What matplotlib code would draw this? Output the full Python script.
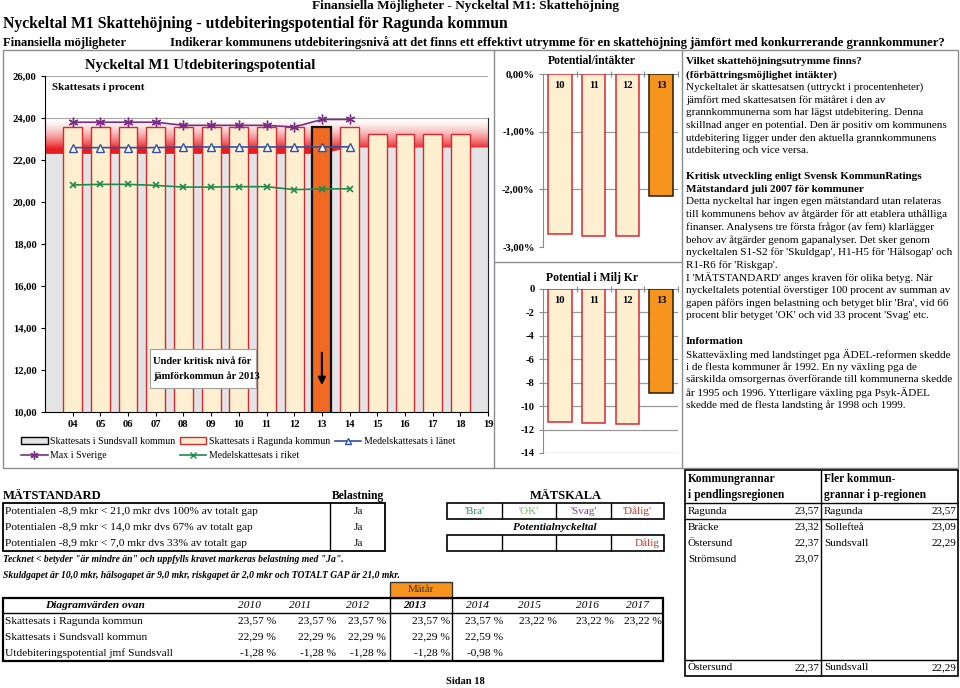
import numpy as np
import matplotlib
matplotlib.use('Agg')
import matplotlib.pyplot as plt
from matplotlib.patches import Rectangle, Patch
from matplotlib.lines import Line2D
from matplotlib.ticker import FuncFormatter

plt.rcParams['font.family'] = ['Liberation Serif', 'DejaVu Serif']

# ---------------- data ----------------
bar_years = [4, 5, 6, 7, 8, 9, 10, 11, 12, 13, 14, 15, 16, 17, 18]
ragunda_rate = [23.57, 23.57, 23.57, 23.57, 23.57, 23.57, 23.57, 23.57, 23.57,
                23.57, 23.57, 23.22, 23.22, 23.22, 23.22]
area_years = [3, 4, 5, 6, 7, 8, 9, 10, 11, 12, 13, 14, 15, 16, 17, 18, 19]
sundsvall_rate = [22.29, 22.29, 22.29, 22.29, 22.29, 22.29, 22.29, 22.29, 22.29,
                  22.29, 22.29, 22.59, 22.59, 22.59, 22.59, 22.59, 22.59]
critical_top = 24.0
line_years = [4, 5, 6, 7, 8, 9, 10, 11, 12, 13, 14]
max_sverige = [23.80, 23.80, 23.80, 23.80, 23.65, 23.65, 23.65, 23.65, 23.57, 23.93, 23.93]
medel_lanet = [22.59, 22.59, 22.59, 22.59, 22.62, 22.62, 22.62, 22.62, 22.62, 22.62, 22.63]
medel_riket = [20.81, 20.84, 20.84, 20.79, 20.71, 20.71, 20.73, 20.73, 20.59, 20.62, 20.63]
tick_years = [4, 5, 6, 7, 8, 9, 10, 11, 12, 13, 14, 15, 16, 17, 18, 19]
tick_labels = ['04', '05', '06', '07', '08', '09', '10', '11', '12', '13', '14',
               '15', '16', '17', '18', '19']
highlight_year = 13

pot_labels = ['10', '11', '12', '13']
pot_pct = [-2.78, -2.81, -2.81, -2.11]
pot_mkr = [-11.35, -11.45, -11.55, -8.90]

tbl_years = ['2010', '2011', '2012', '2013', '2014', '2015', '2016', '2017']
tbl_ragunda = [23.57, 23.57, 23.57, 23.57, 23.57, 23.22, 23.22, 23.22]
tbl_sundsvall = [22.29, 22.29, 22.29, 22.29, 22.59]
tbl_potential = [-1.28, -1.28, -1.28, -1.28, -0.98]

grannar_pend = [('Ragunda', 23.57), ('Bräcke', 23.32), ('Östersund', 22.37), ('Strömsund', 23.07)]
grannar_preg = [('Ragunda', 23.57), ('Sollefteå', 23.09), ('Sundsvall', 22.29)]
min_pend = ('Östersund', 22.37)
min_preg = ('Sundsvall', 22.29)

# ---------------- styling ----------------
cream = '#FDEFD0'
redge = '#D7282F'
orange_main = '#F06A22'
orange_mid = '#F7941D'
gray_area = '#E4E4E7'
purple = '#7B2D86'
blue = '#34509E'
green = '#1E8A4C'
frame_c = '#8C8C8C'

W, H = 960, 688
fig = plt.figure(figsize=(W / 100, H / 100), dpi=100)


def axrect(x0, y0, x1, y1):
    return [x0 / W, 1 - y1 / H, (x1 - x0) / W, (y1 - y0) / H]


def comma(v, d=2):
    return f"{v:.{d}f}".replace('.', ',')


# ---------------- main chart ----------------
ax = fig.add_axes(axrect(45, 76, 488, 412))
ax.set_xlim(3, 19)
ax.set_ylim(10, 26)
for gy in [12, 14, 16, 18, 20, 22, 24, 26]:
    ax.axhline(gy, color='#A8A8A8', lw=0.8, zorder=0.2)
ax.fill_between(area_years, 0, sundsvall_rate, color=gray_area, lw=0, zorder=0.5)
# red critical band fading upwards
band = ax.fill_between(area_years, sundsvall_rate, critical_top, facecolor='none', edgecolor='none')
t = np.linspace(0, 1, 300)
alpha = np.clip(1 - (t - 0.14) / 0.86, 0, 1) ** 1.6
img = np.zeros((300, 1, 4))
img[..., 0] = 0.91
img[..., 1] = 0.11
img[..., 2] = 0.13
img[:, 0, 3] = alpha
im = ax.imshow(img, extent=[3, 19, min(sundsvall_rate), critical_top], origin='lower',
               aspect='auto', zorder=0.6, interpolation='bilinear')
im.set_clip_path(band.get_paths()[0], transform=ax.transData)
ax.set_xlim(3, 19)
ax.set_ylim(10, 26)

bar_fc = [orange_main if y == highlight_year else cream for y in bar_years]
bar_ec = ['#111111' if y == highlight_year else redge for y in bar_years]
bar_lw = [1.6 if y == highlight_year else 1.0 for y in bar_years]
ax.bar(bar_years, ragunda_rate, width=0.68, color=bar_fc, edgecolor=bar_ec,
       linewidth=bar_lw, zorder=2)

ax.plot(line_years, max_sverige, color=purple, lw=1.2, marker=(6, 2, 0), ms=7,
        mew=1.0, zorder=4)
ax.plot(line_years, medel_lanet, color=blue, lw=1.2, marker='^', ms=6, mfc='white',
        mec=blue, mew=1.0, zorder=4)
ax.plot(line_years, medel_riket, color=green, lw=1.2, marker='x', ms=5, mew=1.2,
        zorder=4)

ax.annotate('', xy=(13, 11.15), xytext=(13, 12.95),
            arrowprops=dict(arrowstyle='-|>', color='black', lw=1.5, mutation_scale=11),
            zorder=6)

ax.set_xticks(tick_years)
ax.set_xticklabels(tick_labels)
ax.set_yticks([10, 12, 14, 16, 18, 20, 22, 24, 26])
ax.yaxis.set_major_formatter(FuncFormatter(lambda v, p: comma(v)))
ax.tick_params(axis='both', labelsize=7.6, length=3, width=0.8, pad=3)
for lab in ax.get_xticklabels() + ax.get_yticklabels():
    lab.set_fontweight('bold')
ax.spines['top'].set_visible(False)
ax.spines['right'].set_bounds(10, 24)
ax.spines['right'].set_color('#222222')
ax.set_facecolor('white')

leg_handles = [
    Patch(facecolor=gray_area, edgecolor='black', linewidth=1.0, label='Skattesats i Sundsvall kommun'),
    Line2D([], [], color=purple, lw=1.2, marker=(6, 2, 0), ms=6, label='Max i Sverige'),
    Patch(facecolor=cream, edgecolor=redge, linewidth=1.0, label='Skattesats i Ragunda kommun'),
    Line2D([], [], color=green, lw=1.2, marker='x', ms=4, label='Medelskattesats i riket'),
    Line2D([], [], color=blue, lw=1.2, marker='^', ms=5, mfc='white', mec=blue,
           label='Medelskattesats i länet'),
]
fig.legend(handles=leg_handles, loc='upper left', bbox_to_anchor=(21 / W, 1 - 437 / H),
           ncol=3, frameon=False, fontsize=7.1, handlelength=2.7, handleheight=0.6,
           handletextpad=0.25, columnspacing=0.45, labelspacing=0.5, borderpad=0,
           borderaxespad=0)


# ---------------- middle charts ----------------
def mid_chart(rect, vals, ylim, yticks, fmt, grid_vals, label_y):
    a = fig.add_axes(axrect(*rect))
    xs = list(range(len(pot_labels)))
    fc = [orange_mid if l == '13' else cream for l in pot_labels]
    ec = ['#2A1A05' if l == '13' else redge for l in pot_labels]
    a.bar(xs, vals, width=0.7, color=fc, edgecolor=ec, linewidth=1.1, zorder=3)
    for gv in grid_vals:
        a.axhline(gv, color='#9A9A9A', lw=0.9, zorder=1)
    a.set_xlim(-0.5, 3.5)
    a.set_ylim(*ylim)
    a.set_yticks(yticks)
    a.yaxis.set_major_formatter(FuncFormatter(fmt))
    a.xaxis.set_ticks_position('top')
    a.set_xticks([0.5, 1.5, 2.5, 3.5])
    a.set_xticklabels([])
    a.tick_params(axis='x', direction='inout', length=5, color='#8A8A8A', width=0.8)
    a.tick_params(axis='y', labelsize=7.6, length=3, color='#8A8A8A', width=0.8, pad=3)
    for lab in a.get_yticklabels():
        lab.set_fontweight('bold')
    a.spines['bottom'].set_visible(False)
    a.spines['right'].set_visible(False)
    a.spines['top'].set_color('#8A8A8A')
    a.spines['left'].set_color('#8A8A8A')
    for x, l in zip(xs, pot_labels):
        a.text(x, label_y, l, ha='center', va='center', fontsize=7.6, fontweight='bold', zorder=5)
    return a


mid_chart((543, 74, 678, 247), pot_pct, (-3, 0), [0, -1, -2, -3],
          lambda v, p: comma(v) + '%', [-1, -2], -0.2)
mid_chart((543, 289, 678, 453), pot_mkr, (-14, 0), [0, -2, -4, -6, -8, -10, -12, -14],
          lambda v, p: '0' if v == 0 else f"{v:.0f}", [-2, -4, -6, -8, -10, -12, -14], -1.0)

# ---------------- overlay (texts, frames, tables) ----------------
ov = fig.add_axes([0, 0, 1, 1], zorder=10)
ov.set_xlim(0, W)
ov.set_ylim(H, 0)
ov.axis('off')
ov.patch.set_alpha(0)


def T(x, y, s, size=7.9, weight='normal', style='normal', ha='left', color='black'):
    ov.text(x, y, s, fontsize=size, fontweight=weight, fontstyle=style, ha=ha,
            va='center', color=color)


def L(xs, ys, c='black', lw=1.0):
    ov.plot(xs, ys, color=c, lw=lw, solid_capstyle='butt')


def R(x0, y0, x1, y1, fc='none', ec='black', lw=1.0):
    ov.add_patch(Rectangle((x0, y0), x1 - x0, y1 - y0, facecolor=fc, edgecolor=ec, lw=lw))


# headings
T(465, 6, 'Finansiella Möjligheter - Nyckeltal M1: Skattehöjning', 9.5, 'bold', ha='center')
T(3, 24, 'Nyckeltal M1 Skattehöjning - utdebiteringspotential för Ragunda kommun', 11.3, 'bold')
T(3, 43, 'Finansiella möjligheter', 9.0, 'bold')
T(170, 43, 'Indikerar kommunens utdebiteringsnivå att det finns ett effektivt utrymme för en '
           'skattehöjning jämfört med konkurrerande grannkommuner?', 9.1, 'bold')

# frames
R(3, 50, 958, 468, ec=frame_c)
L([494, 494], [50, 468], frame_c)
L([682, 682], [50, 468], frame_c)
L([494, 682], [262, 262], frame_c)

# chart titles
T(200, 65, 'Nyckeltal M1 Utdebiteringspotential', 10.6, 'bold', ha='center')
T(52, 88, 'Skattesats i procent', 7.9, 'bold')
T(592, 61, 'Potential/intäkter', 8.4, 'bold', ha='center')
T(592, 278, 'Potential i Milj Kr', 8.4, 'bold', ha='center')

R(150, 349, 256, 388, fc='white', ec='#A0A0A0', lw=0.8)
T(153, 361, 'Under kritisk nivå för', 7.6, 'bold')
T(153, 376, 'jämförkommun år 2013', 7.6, 'bold')

# right text panel
panel = [
    ('Vilket skattehöjningsutrymme finns?', 'bold'),
    ('(förbättringsmöjlighet intäkter)', 'bold'),
    ('Nyckeltalet är skattesatsen (uttryckt i procentenheter)', 'normal'),
    ('jämfört med skattesatsen för mätåret i den av', 'normal'),
    ('grannkommunerna som har lägst utdebitering. Denna', 'normal'),
    ('skillnad anger en potential. Den är positiv om kommunens', 'normal'),
    ('utdebitering ligger under den aktuella grannkommunens', 'normal'),
    ('utdebitering och vice versa.', 'normal'),
    ('', 'normal'),
    ('Kritisk utveckling enligt Svensk KommunRatings', 'bold'),
    ('Mätstandard juli 2007 för kommuner', 'bold'),
    ('Detta nyckeltal har ingen egen mätstandard utan relateras', 'normal'),
    ('till kommunens behov av åtgärder för att etablera uthålliga', 'normal'),
    ('finanser. Analysens tre första frågor (av fem) klarlägger', 'normal'),
    ('behov av åtgärder genom gapanalyser. Det sker genom', 'normal'),
    ("nyckeltalen S1-S2 för 'Skuldgap', H1-H5 för 'Hälsogap' och", 'normal'),
    ("R1-R6 för 'Riskgap'.", 'normal'),
    ("I 'MÄTSTANDARD' anges kraven för olika betyg. När", 'normal'),
    ('nyckeltalets potential överstiger 100 procent av summan av', 'normal'),
    ("gapen påförs ingen belastning och betyget blir 'Bra', vid 66", 'normal'),
    ("procent blir betyget 'OK' och vid 33 procent 'Svag' etc.", 'normal'),
    ('', 'normal'),
    ('Information', 'bold'),
    ('Skatteväxling med landstinget pga ÄDEL-reformen skedde', 'normal'),
    ('i de flesta kommuner år 1992. En ny växling pga de', 'normal'),
    ('särskilda omsorgernas överförande till kommunerna skedde', 'normal'),
    ('år 1995 och 1996. Ytterligare växling pga Psyk-ÄDEL', 'normal'),
    ('skedde med de flesta landsting år 1998 och 1999.', 'normal'),
]
for i, (s, w) in enumerate(panel):
    if s:
        T(686, 62 + 12.7 * i, s, 8.0 if w == 'bold' else 8.05, w)

# MÄTSTANDARD
T(3, 496, 'MÄTSTANDARD', 9.1, 'bold')
T(358, 496, 'Belastning', 8.4, 'bold', ha='center')
R(3, 503, 385, 551, lw=1.3)
L([330, 330], [503, 551])
std_rows = ['Potentialen -8,9 mkr < 21,0 mkr dvs 100% av totalt gap',
            'Potentialen -8,9 mkr < 14,0 mkr dvs 67% av totalt gap',
            'Potentialen -8,9 mkr < 7,0 mkr dvs 33% av totalt gap']
for i, s in enumerate(std_rows):
    T(5, 511 + 16 * i, s, 8.2)
    T(358, 511 + 16 * i, 'Ja', 8.2, ha='center')
T(3, 559, 'Tecknet < betyder "är mindre än" och uppfylls kravet markeras belastning med "Ja".',
  6.9, 'bold', 'italic')
T(3, 575, 'Skuldgapet är 10,0 mkr, hälsogapet är 9,0 mkr, riskgapet är 2,0 mkr och TOTALT GAP är 21,0 mkr.',
  6.9, 'bold', 'italic')

# MÄTSKALA
T(566, 496, 'MÄTSKALA', 9.0, 'bold', ha='center')
cells = [447, 502, 556, 611, 664]
R(447, 503, 664, 519, lw=1.2)
R(447, 535, 664, 551, lw=1.2)
for cx in cells[1:-1]:
    L([cx, cx], [503, 519])
    L([cx, cx], [535, 551])
scale_names = ["'Bra'", "'OK'", "'Svag'", "'Dålig'"]
scale_cols = ['#2F8F5B', '#74B95A', '#7E3F98', '#C0392B']
for i, (s, c) in enumerate(zip(scale_names, scale_cols)):
    T((cells[i] + cells[i + 1]) / 2, 511, s, 8.0, ha='center', color=c)
T(555, 527, 'Potentialnyckeltal', 8.0, 'bold', 'italic', ha='center')
T(660, 543, 'Dålig', 8.0, ha='right', color='#C0392B')

# neighbour table (right)
R(685, 470, 958, 676, lw=1.2)
L([821, 821], [470, 676])
L([685, 958], [503, 503])
L([685, 821], [519, 519])
L([821, 958], [519, 519])
L([685, 958], [660, 660])
T(688, 479, 'Kommungrannar', 8.3, 'bold')
T(688, 495, 'i pendlingsregionen', 8.3, 'bold')
T(824, 479, 'Fler kommun-', 8.3, 'bold')
T(824, 495, 'grannar i p-regionen', 8.3, 'bold')
for i, (n, v) in enumerate(grannar_pend):
    yy = 511 + 16 * i
    T(688, yy, n, 8.0)
    T(819, yy, comma(v), 8.0, ha='right')
for i, (n, v) in enumerate(grannar_preg):
    yy = 511 + 16 * i
    T(824, yy, n, 8.0)
    T(956, yy, comma(v), 8.0, ha='right')
T(688, 668, min_pend[0], 8.0)
T(819, 668, comma(min_pend[1]), 8.0, ha='right')
T(824, 668, min_preg[0], 8.0)
T(956, 668, comma(min_preg[1]), 8.0, ha='right')

# Diagramvärden table
R(390, 582, 452, 598, fc=orange_mid, ec='#333333', lw=1.0)
T(421, 590, 'Mätår', 7.9, ha='center', color='#4A3010')
R(3, 598, 663, 661, lw=1.6)
L([3, 663], [613, 613])
L([390, 390], [598, 661])
L([452, 452], [598, 661])
T(95, 605, 'Diagramvärden ovan', 8.2, 'bold', 'italic', ha='center')
hdr_x = [250, 300, 357, 415, 477, 530, 587, 638]
val_right = [276, 336, 386, 450, 503, 557, 614, 662]
for i, yr in enumerate(tbl_years):
    T(hdr_x[i], 605, yr, 8.2, 'bold' if yr == '2013' else 'normal', 'italic', ha='center')
row_names = ['Skattesats i Ragunda kommun', 'Skattesats i Sundsvall kommun',
             'Utdebiteringspotential jmf Sundsvall']
for r, (name, vals) in enumerate(zip(row_names, [tbl_ragunda, tbl_sundsvall, tbl_potential])):
    yy = 621 + 16 * r
    T(5, yy, name, 8.2)
    for i, v in enumerate(vals):
        T(val_right[i], yy, comma(v) + ' %', 8.2, ha='right')

T(465, 682, 'Sidan 18', 7.6, 'bold', ha='center')

fig.savefig('out.png', dpi=100)
